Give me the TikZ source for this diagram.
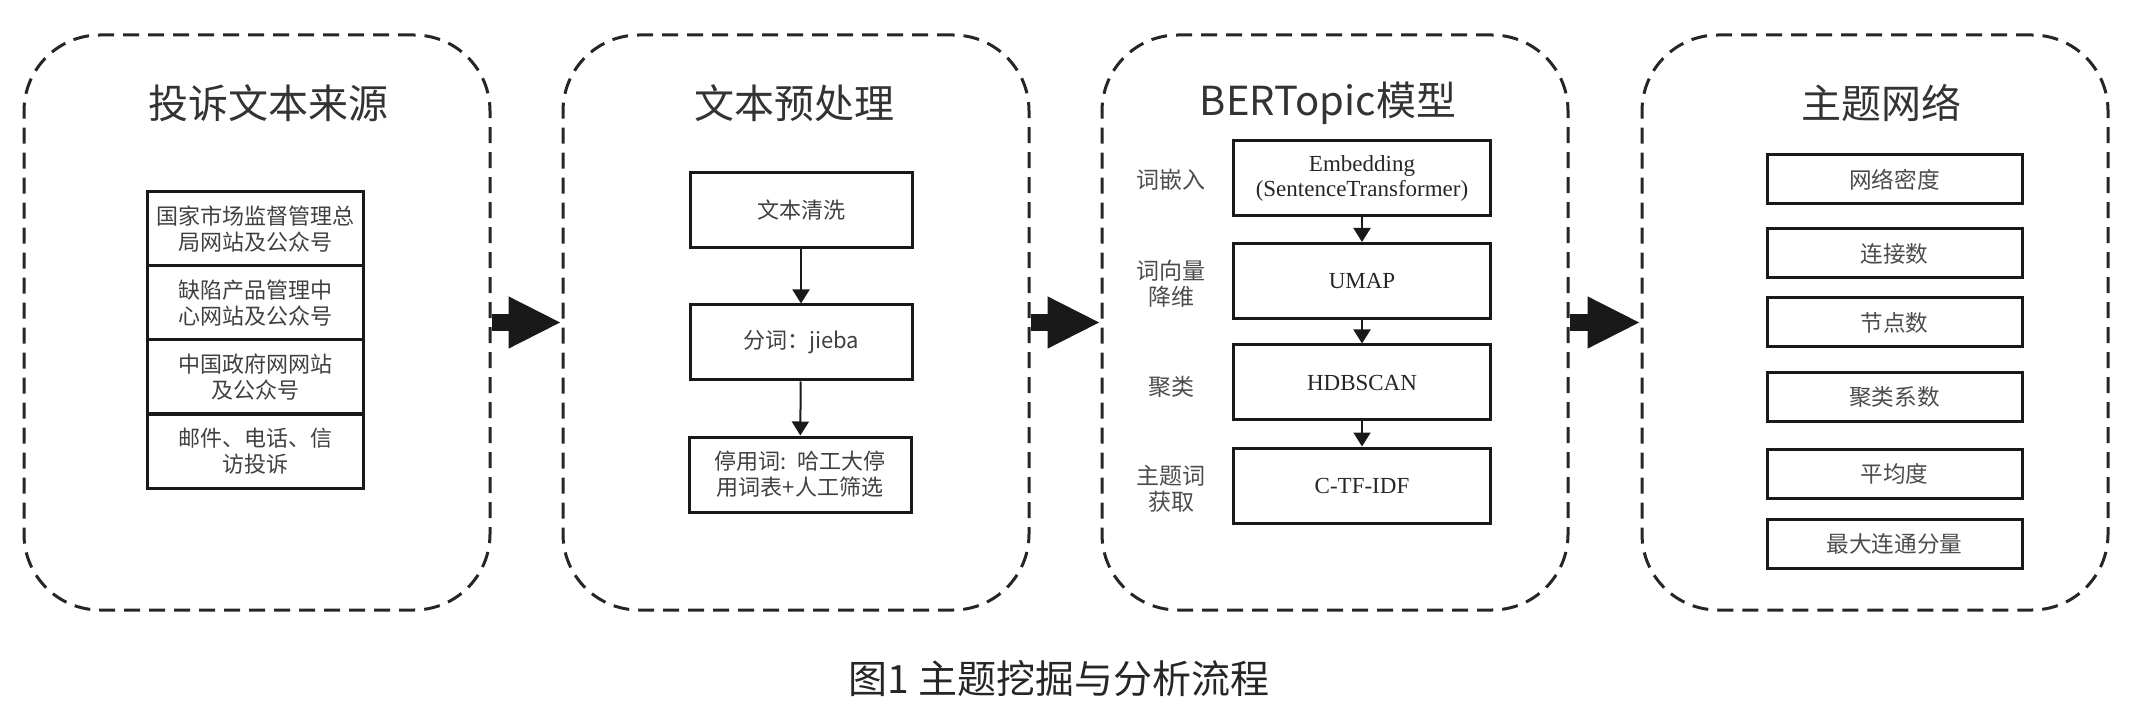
\documentclass[tikz,border=0pt]{standalone}
\usepackage{fontspec}
\setmainfont{Liberation Serif}
\newfontfamily\cjk{Noto Sans CJK SC}
\usetikzlibrary{arrows.meta}
\begin{document}
\begin{tikzpicture}[x=0.5pt,y=-0.5pt,
  panel/.style={draw=black!85, line width=1.5pt, dash pattern=on 8pt off 4.5pt, rounded corners=38pt, minimum width=233pt, minimum height=287.5pt},
  head/.style={font=\cjk\fontsize{20}{24}\selectfont, text=black!80},
  cell/.style={draw=black!90, line width=1.5pt, inner sep=0pt, text width=106pt, align=center, minimum width=108pt, minimum height=37pt, font=\cjk\fontsize{11}{13}\selectfont, text=black!75},
  prep/.style={draw=black!90, line width=1.5pt, inner sep=0pt, text width=105pt, align=center, minimum width=111pt, minimum height=37.5pt, font=\cjk\fontsize{11}{13}\selectfont, text=black!75},
  model/.style={draw=black!90, line width=1.5pt, inner sep=0pt, text width=125pt, align=center, minimum width=128.5pt, minimum height=37.5pt, font=\fontsize{11.5}{12.5}\selectfont, text=black!85},
  step label/.style={align=center, font=\cjk\fontsize{11.5}{13}\selectfont, text=black!70},
  metric/.style={draw=black!90, line width=1.5pt, inner sep=0pt, minimum width=127.5pt, minimum height=24.5pt, font=\cjk\fontsize{11.3}{13}\selectfont, text=black!70},
  flow/.style={draw=black!90, line width=1pt, -{Triangle[length=7pt, width=8.5pt]}},
  bigarrow/.style={draw=black!90, line width=8.5pt, -{Triangle[length=26.5pt, width=24pt]}}]
\useasboundingbox (0,0) rectangle (2130,721);

\node [panel] (p1) at (257,322.5) {};
\node [panel] (p2) at (796,322.5) {};
\node [panel] (p3) at (1335,322.5) {};
\node [panel] (p4) at (1875,322.5) {};

\node [head] (h1) at (268,103) {投诉文本来源};
\node [head] (h2) at (794,103) {文本预处理};
\node [head] (h3) at (1328,103) {BERTopic模型};
\node [head] (h4) at (1881,103) {主题网络};

\node [cell] (s1) at (255,229) {国家市场监督管理总\\局网站及公众号};
\node [cell] (s2) at (255,303) {缺陷产品管理中\\心网站及公众号};
\node [cell] (s3) at (255,377) {中国政府网网站\\及公众号};
\node [cell] (s4) at (255,451.5) {邮件、电话、信\\访投诉};

\node [prep] (t1) at (801,210.5) {文本清洗};
\node [prep] (t2) at (801,342.5) {分词：jieba};
\node [prep] (t3) at (800,474.5) {停用词: 哈工大停\\用词表+人工筛选};
\draw [flow] (t1) -- (t2);
\draw [flow] (t2) -- (t3);

\node [model] (m1) at (1362,178.5) {Embedding\\(SentenceTransformer)};
\node [model] (m2) at (1362,281) {UMAP};
\node [model] (m3) at (1362,382.5) {HDBSCAN};
\node [model] (m4) at (1362,485.5) {C-TF-IDF};
\draw [flow] (m1) -- (m2);
\draw [flow] (m2) -- (m3);
\draw [flow] (m3) -- (m4);
\node [step label] (l1) at (1171,180) {词嵌入};
\node [step label] (l2) at (1171,284) {词向量\\降维};
\node [step label] (l3) at (1171,387) {聚类};
\node [step label] (l4) at (1171,489) {主题词\\获取};

\node [metric] (n1) at (1894.5,179.5) {网络密度};
\node [metric] (n2) at (1894.5,253.5) {连接数};
\node [metric] (n3) at (1894.5,322.5) {节点数};
\node [metric] (n4) at (1894.5,397.5) {聚类系数};
\node [metric] (n5) at (1894.5,473.5) {平均度};
\node [metric] (n6) at (1894.5,543.5) {最大连通分量};

\draw [bigarrow] (p1.east) -- (p2.west);
\draw [bigarrow] (p2.east) -- (p3.west);
\draw [bigarrow] (p3.east) -- (p4.west);

\node [font=\cjk\fontsize{19.5}{23}\selectfont, text=black!85] (cap) at (1059,679) {图1 主题挖掘与分析流程};
\end{tikzpicture}
\end{document}
